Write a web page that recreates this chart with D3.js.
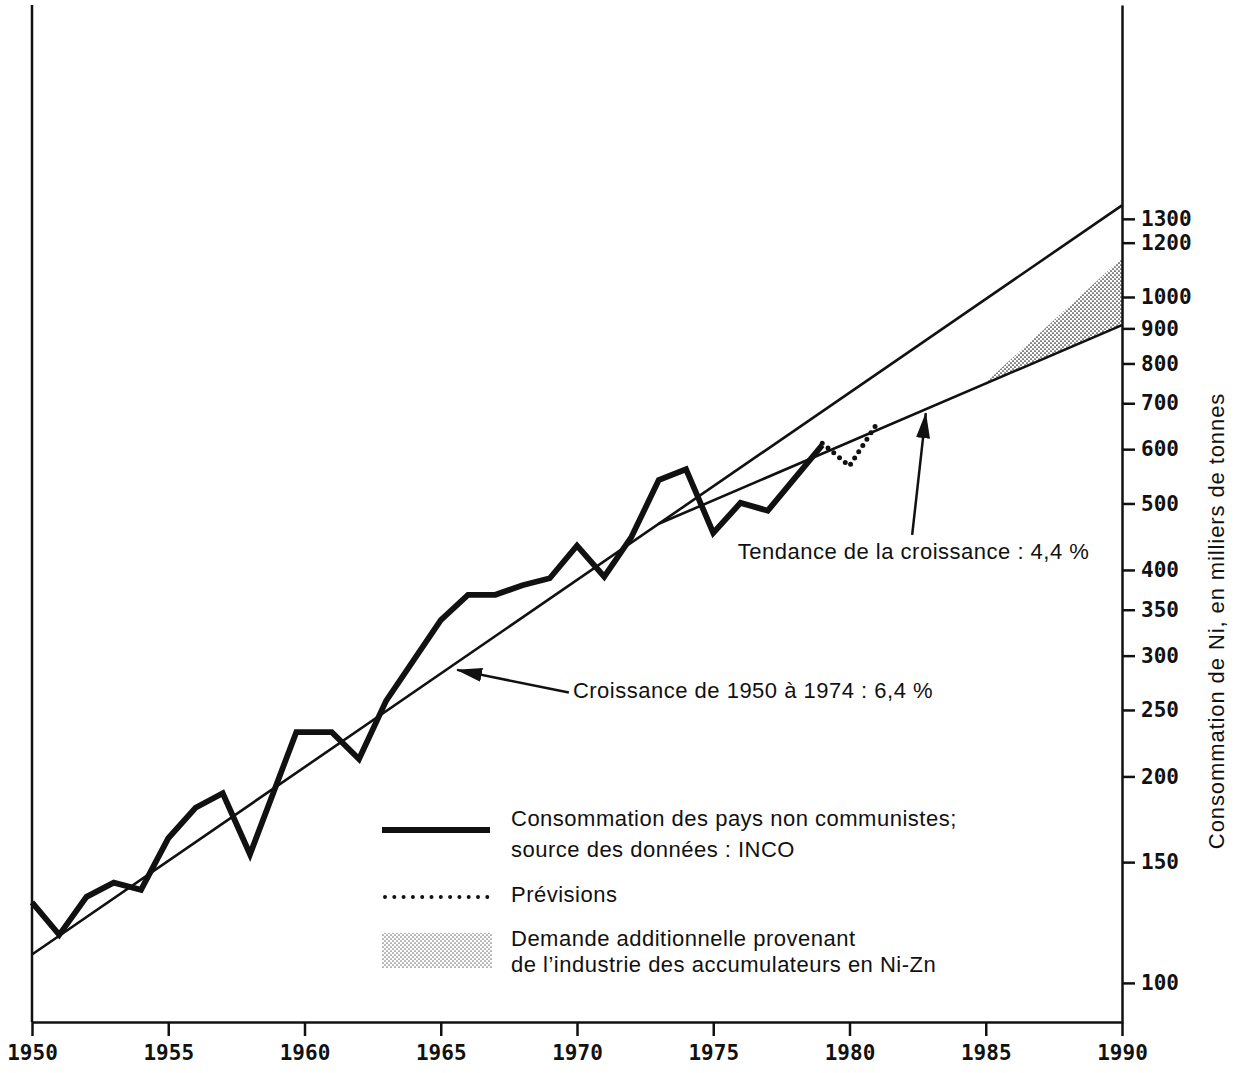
<!DOCTYPE html>
<html>
<head>
<meta charset="utf-8">
<script src="https://cdn.jsdelivr.net/npm/d3@7"></script>
<style>
  body { margin: 0; background: #fff; }
  svg { display: block; }
  .lbl { font-family: "Liberation Sans", Arial, sans-serif; font-size: 22px; letter-spacing: 0.5px; fill: #111; }
  .tick text { font-family: "DejaVu Sans Mono", monospace; font-weight: bold; font-size: 21px; fill: #111; }
</style>
</head>
<body>
<div id="chart"></div>
<script>
// consumption of non-communist countries (thousand tonnes)
const years = [1950, 1951, 1952, 1953, 1954, 1955, 1956, 1957, 1958, 1959.7, 1961, 1962, 1963,
  1965, 1966, 1967, 1968, 1969, 1970, 1971, 1972, 1973, 1974, 1975, 1976, 1977, 1979];
const consumption = [131, 117.5, 133.5, 140, 136.7, 162.5, 180, 189, 154, 232, 232, 212, 258,
  338, 368, 368, 380, 389, 434, 391, 447, 541, 561, 453, 501, 488, 608];

// forecast (dotted)
const forecastYears = [1979, 1980, 1981];
const forecast = [612, 567, 653];

// growth 1950-1974 : 6,4 %
const growthYears = [1950, 1990];
const growth = [110, 1360];

// trend 4,4 %
const trendYears = [1973, 1990];
const trend = [467, 910];

// additional demand from Ni-Zn batteries
const extraYears = [1985, 1990];
const extraLow = [751, 910];
const extraHigh = [751, 1140];

const xTicks = [1950, 1955, 1960, 1965, 1970, 1975, 1980, 1985, 1990];
const yTicks = [100, 150, 200, 250, 300, 350, 400, 500, 600, 700, 800, 900, 1000, 1200, 1300];

// annotations: [year, value] of text start, arrow tail, arrow tip
const noteTrend = { text: 'Tendance de la croissance : 4,4 %', at: [1975.9, 423], from: [1982.3, 450], to: [1982.8, 677] };
const noteGrowth = { text: 'Croissance de 1950 à 1974 : 6,4 %', at: [1969.85, 265], from: [1969.7, 265], to: [1965.6, 286] };

const W = 1239, H = 1073;

const svg = d3.select('#chart')
  .append('svg')
  .attr('width', W)
  .attr('height', H);

const defs = svg.append('defs');
const pat = defs.append('pattern')
  .attr('id', 'stipple')
  .attr('patternUnits', 'userSpaceOnUse')
  .attr('width', 4)
  .attr('height', 4);
pat.append('circle').attr('cx', 1).attr('cy', 1).attr('r', 0.85).attr('fill', '#222');
pat.append('circle').attr('cx', 3).attr('cy', 3).attr('r', 0.85).attr('fill', '#222');

defs.append('marker')
  .attr('id', 'head')
  .attr('markerUnits', 'userSpaceOnUse')
  .attr('viewBox', '0 0 26 14')
  .attr('refX', 25)
  .attr('refY', 7)
  .attr('markerWidth', 26)
  .attr('markerHeight', 14)
  .attr('orient', 'auto')
  .append('path')
  .attr('d', 'M0,0 L26,7 L0,14 Z')
  .attr('fill', '#111');

const x = d3.scaleLinear()
  .domain([1950, 1990])
  .range([32, 1122]);
const y = d3.scaleLog()
  .domain([87.7, 2665])
  .range([1022, 5]);

// shaded extra demand
svg.append('path')
  .datum(extraYears.map((yr, i) => ({ yr, lo: extraLow[i], hi: extraHigh[i] })))
  .attr('fill', 'url(#stipple)')
  .attr('d', d3.area()
    .x(d => x(d.yr))
    .y0(d => y(d.lo))
    .y1(d => y(d.hi)));

// trend lines
const line = d3.line().x(d => x(d[0])).y(d => y(d[1]));
svg.append('path')
  .datum(growthYears.map((yr, i) => [yr, growth[i]]))
  .attr('fill', 'none').attr('stroke', '#111').attr('stroke-width', 2.6)
  .attr('d', line);
svg.append('path')
  .datum(trendYears.map((yr, i) => [yr, trend[i]]))
  .attr('fill', 'none').attr('stroke', '#111').attr('stroke-width', 2.6)
  .attr('d', line);

// consumption
svg.append('path')
  .datum(years.map((yr, i) => [yr, consumption[i]]))
  .attr('fill', 'none').attr('stroke', '#111').attr('stroke-width', 5.8)
  .attr('stroke-linejoin', 'miter')
  .attr('d', line);

// forecast
svg.append('path')
  .datum(forecastYears.map((yr, i) => [yr, forecast[i]]))
  .attr('fill', 'none').attr('stroke', '#111').attr('stroke-width', 5)
  .attr('stroke-linecap', 'round')
  .attr('stroke-dasharray', '0 7.5')
  .attr('d', line);

// axes
const xAxis = svg.append('g')
  .attr('transform', `translate(0,${y.range()[0]})`)
  .call(d3.axisBottom(x).tickValues(xTicks).tickFormat(d3.format('d'))
    .tickSize(14).tickSizeOuter(0).tickPadding(9));
const yAxis = svg.append('g')
  .attr('transform', `translate(${x.range()[1]},0)`)
  .call(d3.axisRight(y).tickValues(yTicks).tickFormat(d3.format('d'))
    .tickSize(13).tickSizeOuter(0).tickPadding(6));
svg.append('line')
  .attr('x1', x.range()[0]).attr('x2', x.range()[0])
  .attr('y1', y.range()[1]).attr('y2', y.range()[0])
  .attr('stroke', '#111').attr('stroke-width', 2.5);
[xAxis, yAxis].forEach(g => {
  g.selectAll('.domain').attr('stroke', '#111').attr('stroke-width', 2.5);
  g.selectAll('.tick line').attr('stroke', '#111').attr('stroke-width', 2.5);
});

svg.append('text')
  .attr('class', 'lbl')
  .attr('transform', 'translate(1218,621) rotate(-90)')
  .attr('text-anchor', 'middle')
  .attr('dominant-baseline', 'middle')
  .style('letter-spacing', '0.9px')
  .text('Consommation de Ni, en milliers de tonnes');

// annotations
[noteTrend, noteGrowth].forEach(n => {
  svg.append('line')
    .attr('x1', x(n.from[0])).attr('y1', y(n.from[1]))
    .attr('x2', x(n.to[0])).attr('y2', y(n.to[1]))
    .attr('stroke', '#111').attr('stroke-width', 2.5)
    .attr('marker-end', 'url(#head)');
  svg.append('text')
    .attr('class', 'lbl')
    .attr('x', x(n.at[0])).attr('y', y(n.at[1]))
    .attr('dominant-baseline', 'middle')
    .text(n.text);
});

// legend
const leg = svg.append('g');
leg.append('line')
  .attr('x1', 382).attr('x2', 490).attr('y1', 830).attr('y2', 830)
  .attr('stroke', '#111').attr('stroke-width', 5.8);
leg.append('line')
  .attr('x1', 385).attr('x2', 490).attr('y1', 897).attr('y2', 897)
  .attr('stroke', '#111').attr('stroke-width', 4)
  .attr('stroke-linecap', 'round')
  .attr('stroke-dasharray', '0 9.3');
leg.append('rect')
  .attr('x', 382).attr('y', 933).attr('width', 110).attr('height', 35)
  .attr('fill', 'url(#stipple)').attr('opacity', 0.6);
const legText = [
  ['Consommation des pays non communistes;', 820],
  ['source des données : INCO', 851],
  ['Prévisions', 896],
  ['Demande additionnelle provenant', 940],
  ['de l\u2019industrie des accumulateurs en Ni-Zn', 966]
];
legText.forEach(([t, ty]) => {
  leg.append('text')
    .attr('class', 'lbl')
    .attr('x', 511).attr('y', ty)
    .attr('dominant-baseline', 'middle')
    .text(t);
});
</script>
</body>
</html>
